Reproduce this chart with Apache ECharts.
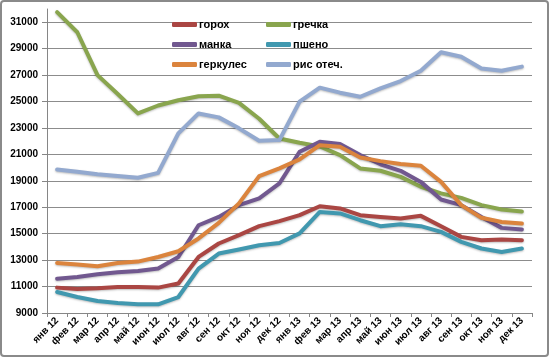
<!DOCTYPE html>
<html><head><meta charset="utf-8">
<script src="https://cdn.jsdelivr.net/npm/echarts@6/dist/echarts.min.js"></script>
<style>html,body{margin:0;padding:0;background:#fff}#c{width:550px;height:358px}</style>
</head><body><div id="c"></div>
<script>
const months = ['янв 12','фев 12','мар 12','апр 12','май 12','июн 12','июл 12','авг 12','сен 12','окт 12','ноя 12','дек 12',
                'янв 13','фев 13','мар 13','апр 13','май 13','июн 13','июл 13','авг 13','сен 13','окт 13','ноя 13','дек 13'];
const gorokh   = [10920,10820,10870,10970,10970,10920,11230,13240,14260,14890,15570,15950,16400,17080,16910,16400,16270,16150,16350,15570,14760,14510,14560,14510];
const grechka  = [31760,30240,27000,25570,24100,24700,25100,25400,25440,24900,23700,22200,21880,21600,20950,19940,19760,19300,18550,18050,17710,17160,16830,16680];
const manka    = [11600,11730,11930,12080,12180,12360,13240,15640,16270,17160,17670,18800,21200,21950,21780,20950,20250,19760,18920,17590,17160,16270,15440,15320];
const psheno   = [10590,10210,9910,9760,9660,9660,10210,12360,13500,13800,14130,14300,15020,16650,16530,16020,15570,15720,15570,15140,14380,13880,13620,13880];
const gerkules = [12790,12670,12540,12790,12890,13240,13670,14640,15820,17290,19360,19940,20620,21700,21580,20770,20490,20270,20140,18920,17160,16200,15890,15770];
const ris      = [19860,19680,19500,19360,19230,19600,22590,24100,23800,22970,22030,22080,24990,26050,25670,25360,26000,26550,27330,28730,28390,27500,27330,27640];
const seriesNames = ['горох','гречка','манка','пшено','геркулес','рис отеч.'];
const seriesData = [gorokh, grechka, manka, psheno, gerkules, ris];
const colors = ['#AA4643','#89A54E','#71588F','#4198AF','#DB843D','#93A9CF'];
const legendPos = [[172,19],[266,19],[172,39],[266,39],[172,59],[266,59]];

const chart = echarts.init(document.getElementById('c'), null, {renderer:'canvas'});
const FONT = '"Liberation Sans", Arial, sans-serif';
chart.setOption({
  animation:false,
  color: colors,
  grid:{left:47, right:18, top:9, bottom:45, containLabel:false},
  graphic:[{type:'rect', shape:{x:1,y:1,width:547,height:355,r:3}, style:{fill:'none',stroke:'#8a8a8a',lineWidth:2}, z:-1}],
  legend: seriesNames.map((n,i)=>({
    data:[n], left:legendPos[i][0], top:legendPos[i][1], itemWidth:25, itemHeight:5, itemGap:0,
    icon:'roundRect', textStyle:{fontFamily:FONT, fontSize:11, fontWeight:'bold', color:'#000', padding:[0,0,0,-3]}, padding:0
  })),
  xAxis:{type:'category', data:months, boundaryGap:true,
    axisLine:{lineStyle:{color:'#868686',width:1}},
    axisTick:{show:true, length:4, lineStyle:{color:'#868686'}},
    axisLabel:{rotate:45, interval:0, fontFamily:FONT, fontSize:10, fontWeight:'bold', color:'#000', margin:6}},
  yAxis:{type:'value', min:9000, max:32000, interval:2000,
    axisLine:{show:true, lineStyle:{color:'#868686'}},
    axisTick:{show:true, length:5, lineStyle:{color:'#868686'}},
    axisLabel:{showMaxLabel:false, formatter:v=>String(v), fontFamily:FONT, fontSize:10, fontWeight:'bold', color:'#000', margin:9},
    splitLine:{show:true, showMaxLine:false, lineStyle:{color:'#8c8c8c', width:1}}},
  series: seriesNames.map((n,i)=>({
    name:n, type:'line', data:seriesData[i], symbol:'none', smooth:false,
    lineStyle:{width:4, color:colors[i], cap:'round', join:'round', shadowColor:'rgba(0,0,0,0.25)', shadowBlur:2, shadowOffsetY:1}
  }))
});
</script></body></html>
